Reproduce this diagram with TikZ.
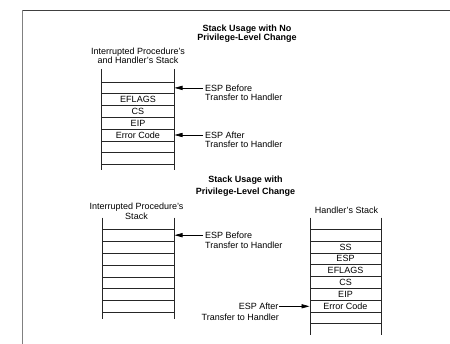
\documentclass[tikz,border=0pt]{standalone}
\usepackage{fontspec}
\setmainfont{Liberation Sans}
\usetikzlibrary{arrows.meta}
\begin{document}
\begin{tikzpicture}[x=1pt,y=-1pt,
  lbl/.style={font=\fontsize{9}{10}\selectfont, inner sep=0pt, text height=6.4pt, text depth=0pt},
  ttl/.style={lbl, font=\fontsize{9}{10}\selectfont\bfseries},
  stk/.style={line width=0.7pt, draw=black!85},
  frm/.style={line width=0.9pt},
  ptr/.style={line width=0.7pt, -{Triangle[length=8pt,width=4.2pt]}}]
\useasboundingbox (0,0) rectangle (450,344);
% frame
\draw[frm, draw=black!75] (22,10.4) -- (450,10.4);
\draw[frm, draw=black!50] (22,10.4) -- (22,344);

% ---------- top part ----------
\node[ttl] (t1a) at (247,28.3) {Stack Usage with No};
\node[ttl] (t1b) at (247,37.7) {Privilege-Level Change};
\node[lbl] (h1a) at (138,51.5) {Interrupted Procedure's};
\node[lbl] (h1b) at (138,60.7) {and Handler's Stack};

\draw[stk] (101.7,69) -- (101.7,170) (174,69) -- (174,170);
\foreach \i in {0,...,7}
  \draw[stk] (101.7,82+\i*11.78) -- (174,82+\i*11.78);
\node[lbl] (s1e) at (138,99.7) {EFLAGS};
\node[lbl] (s1c) at (138,111.5) {CS};
\node[lbl] (s1i) at (138,123.2) {EIP};
\node[lbl] (s1r) at (138,135) {Error Code};

\coordinate (p1b) at (174.5,87.9);
\coordinate (p1a) at (174.5,135);
\node[lbl, anchor=west, inner xsep=2pt] (e1b) at (203,87.9) {ESP Before};
\node[lbl, anchor=west] (e1bt) at (205,97.3) {Transfer to Handler};
\node[lbl, anchor=west, inner xsep=2pt] (e1a) at (203,135) {ESP After};
\node[lbl, anchor=west] (e1at) at (205,144.3) {Transfer to Handler};
\draw[ptr] (e1b.west) -- (p1b);
\draw[ptr] (e1a.west) -- (p1a);

% ---------- bottom part ----------
\node[ttl] (t2a) at (245.5,179.6) {Stack Usage with};
\node[ttl] (t2b) at (245.5,191) {Privilege-Level Change};
\node[lbl] (h2a) at (136.5,206) {Interrupted Procedure's};
\node[lbl] (h2b) at (136.5,216) {Stack};
\node[lbl] (h3) at (346.5,210) {Handler's Stack};

% interrupted procedure's stack
\draw[stk] (102,217.7) -- (102,318.7) (174,217.7) -- (174,318.7);
\foreach \i in {0,...,7}
  \draw[stk] (102,229.3+\i*11.9) -- (174,229.3+\i*11.9);

% handler's stack
\draw[stk] (310,217.7) -- (310,335.3) (381,217.7) -- (381,335.3);
\foreach \i in {0,...,8}
  \draw[stk] (310,229.3+\i*11.8) -- (381.5,229.3+\i*11.8);
\node[lbl] (s2s) at (345.5,247) {SS};
\node[lbl] (s2p) at (345.5,258.8) {ESP};
\node[lbl] (s2e) at (345.5,270.6) {EFLAGS};
\node[lbl] (s2c) at (345.5,282.4) {CS};
\node[lbl] (s2i) at (345.5,294.2) {EIP};
\node[lbl] (s2r) at (345.5,306) {Error Code};

\coordinate (p2b) at (174.5,235.2);
\coordinate (p2a) at (309.5,306.3);
\node[lbl, anchor=west, inner xsep=2pt] (e2b) at (203,235.2) {ESP Before};
\node[lbl, anchor=west] (e2bt) at (205,245) {Transfer to Handler};
\node[lbl, anchor=east, inner xsep=0.5pt] (e2a) at (279,306.3) {ESP After};
\node[lbl, anchor=east] (e2at) at (279,317.5) {Transfer to Handler};
\draw[ptr] (e2a.east) -- (p2a);
\draw[ptr] (e2b.west) -- (p2b);
\end{tikzpicture}
\end{document}
